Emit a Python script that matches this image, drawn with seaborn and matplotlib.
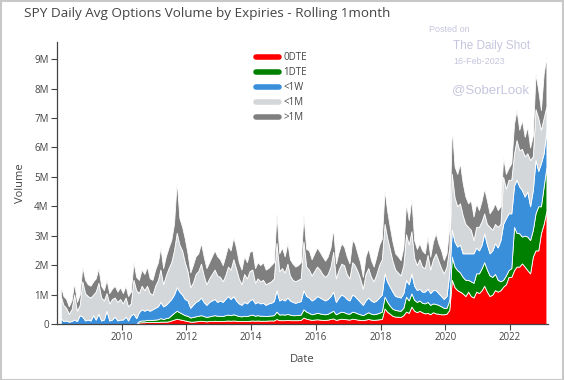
import numpy as np
import pandas as pd
import matplotlib
matplotlib.use("Agg")
import matplotlib.pyplot as plt
import seaborn as sns
from matplotlib.lines import Line2D
from matplotlib.patches import Rectangle

# ---------------- data (millions of contracts, monthly) ----------------
months = pd.date_range("2008-02-01", "2023-02-01", freq="MS") + pd.Timedelta(days=14)

# upper edge of each stacked band
edge_total = [
    1.30, 0.95, 0.85, 0.60, 0.80, 1.40, 0.75, 1.00, 1.95, 1.50, 1.35,
    1.30, 1.45, 1.55, 1.90, 1.30, 1.15, 1.50, 1.05, 1.20, 1.30, 1.10, 1.25,
    1.05, 1.30, 0.95, 1.10, 2.10, 1.60, 1.50, 1.85, 1.70, 1.95, 1.55, 1.50,
    1.85, 2.10, 2.60, 1.90, 2.30, 2.60, 2.85, 3.40, 4.85, 3.60, 3.30, 2.90,
    2.40, 1.75, 2.00, 2.30, 2.40, 2.75, 2.30, 1.90, 2.10, 2.30, 2.50, 2.30,
    2.20, 2.00, 2.30, 2.65, 2.50, 2.95, 2.60, 2.10, 1.85, 2.30, 2.10, 2.45,
    2.50, 1.90, 2.10, 2.00, 2.10, 1.85, 1.90, 2.00, 2.10, 3.75, 2.40, 2.60,
    2.30, 2.75, 2.20, 2.05, 1.95, 2.00, 2.10, 3.70, 2.55, 2.50, 2.20, 2.40,
    2.60, 2.45, 2.30, 2.15, 2.30, 2.60, 3.25, 2.06, 2.45, 2.74, 2.63, 2.30,
    2.06, 2.85, 2.74, 2.40, 2.10, 1.60, 2.30, 2.57, 2.17, 1.95, 2.30, 2.68,
    2.90, 4.55, 3.87, 3.30, 2.80, 2.40, 2.30, 2.17, 2.60, 4.10, 3.53, 4.26,
    2.85, 2.55, 2.74, 2.50, 2.40, 2.97, 2.29, 2.80, 3.08, 2.74, 2.50, 2.17,
    2.40, 3.30, 6.70, 5.35, 5.10, 5.46, 4.80, 4.33, 4.10, 4.20, 3.65, 4.10,
    3.87, 4.20, 4.60, 4.20, 3.76, 3.90, 4.10, 3.87, 4.00, 5.68, 5.10, 5.30,
    5.46, 6.80, 7.27, 6.60, 6.93, 6.36, 6.70, 6.00, 6.40, 8.50, 7.95, 7.27,
    8.50, 9.10,
]
edge_1m = [
    0.95, 0.65, 0.55, 0.35, 0.50, 1.00, 0.45, 0.65, 1.45, 1.05, 0.95,
    0.90, 1.00, 1.10, 1.40, 0.90, 0.80, 1.05, 0.70, 0.85, 0.90, 0.75, 0.85,
    0.70, 0.90, 0.60, 0.70, 1.50, 1.15, 1.05, 1.30, 1.15, 1.30, 1.05, 1.00,
    1.30, 1.50, 1.85, 1.35, 1.65, 1.90, 2.10, 2.50, 3.10, 2.70, 2.50, 2.10,
    1.80, 1.25, 1.40, 1.70, 1.80, 2.05, 1.65, 1.35, 1.55, 1.70, 1.85, 1.65,
    1.60, 1.45, 1.65, 1.95, 1.85, 2.20, 1.90, 1.55, 1.35, 1.70, 1.55, 1.80,
    1.85, 1.40, 1.55, 1.45, 1.50, 1.35, 1.40, 1.45, 1.55, 2.75, 1.80, 1.90,
    1.75, 2.05, 1.65, 1.50, 1.45, 1.50, 1.55, 2.80, 1.95, 1.85, 1.65, 1.80,
    1.95, 1.85, 1.70, 1.60, 1.70, 1.95, 2.45, 1.55, 1.85, 2.05, 2.00, 1.70,
    1.55, 2.10, 2.00, 1.80, 1.55, 1.20, 1.70, 1.90, 1.60, 1.45, 1.70, 2.00,
    2.20, 3.40, 2.95, 2.55, 2.15, 1.85, 1.75, 1.65, 2.00, 3.05, 2.70, 3.15,
    2.25, 2.00, 2.20, 1.95, 1.90, 2.35, 1.85, 2.20, 2.40, 2.15, 1.90, 1.72,
    1.95, 2.60, 5.10, 4.30, 4.00, 4.10, 3.70, 3.40, 3.30, 3.20, 2.85, 3.30,
    3.30, 3.50, 3.76, 3.40, 3.30, 3.20, 3.40, 3.30, 3.40, 5.00, 4.60, 4.90,
    4.90, 5.80, 6.25, 5.90, 5.95, 5.70, 5.80, 5.57, 5.70, 7.30, 7.00, 6.60,
    7.00, 7.40,
]
edge_1w = [
    0.20, 0.10, 0.12, 0.08, 0.10, 0.15, 0.10, 0.30, 0.25, 0.12, 0.15,
    0.12, 0.30, 0.15, 0.35, 0.12, 0.15, 0.45, 0.12, 0.15, 0.25, 0.12, 0.15,
    0.15, 0.25, 0.12, 0.30, 0.35, 0.20, 0.40, 0.50, 0.45, 0.50, 0.45, 0.50,
    0.55, 0.60, 0.75, 0.60, 0.65, 0.75, 0.85, 1.00, 1.25, 1.10, 1.00, 0.85,
    0.80, 0.55, 0.65, 0.75, 0.80, 0.90, 0.75, 0.65, 0.75, 0.80, 0.85, 0.75,
    0.80, 0.75, 0.85, 0.95, 0.85, 0.95, 0.80, 0.70, 0.65, 0.75, 0.70, 0.80,
    0.85, 0.70, 0.75, 0.70, 0.72, 0.65, 0.70, 0.72, 0.78, 1.15, 0.80, 0.85,
    0.80, 0.90, 0.80, 0.75, 0.72, 0.75, 0.78, 1.15, 0.95, 0.90, 0.80, 0.85,
    0.95, 0.90, 0.85, 0.80, 0.85, 0.95, 1.10, 0.75, 0.90, 1.00, 0.95, 0.85,
    0.80, 1.00, 0.95, 0.85, 0.75, 0.65, 0.80, 0.90, 0.80, 0.75, 0.80, 0.90,
    1.00, 1.72, 1.45, 1.27, 1.10, 0.95, 0.93, 0.90, 1.05, 1.50, 1.35, 1.72,
    1.30, 1.15, 1.20, 1.10, 1.10, 1.20, 1.05, 1.15, 1.15, 1.05, 0.95, 0.85,
    0.95, 1.72, 3.20, 2.80, 2.63, 2.70, 2.40, 2.40, 2.40, 2.40, 2.40, 2.60,
    2.50, 2.70, 3.08, 2.70, 2.40, 2.50, 2.74, 2.60, 2.85, 3.40, 3.60, 3.76,
    3.76, 4.70, 4.90, 4.67, 4.55, 4.33, 4.50, 4.00, 4.55, 5.57, 5.20, 5.46,
    5.80, 6.60,
]
edge_1dte = [
    0.00, 0.00, 0.00, 0.00, 0.00, 0.00, 0.00, 0.00, 0.00, 0.00, 0.00,
    0.00, 0.00, 0.00, 0.00, 0.00, 0.00, 0.00, 0.00, 0.00, 0.00, 0.00, 0.00,
    0.00, 0.00, 0.00, 0.00, 0.00, 0.00, 0.10, 0.12, 0.12, 0.14, 0.14, 0.14,
    0.15, 0.16, 0.20, 0.17, 0.20, 0.22, 0.30, 0.38, 0.45, 0.40, 0.35, 0.30,
    0.28, 0.22, 0.24, 0.26, 0.28, 0.30, 0.27, 0.24, 0.26, 0.28, 0.30, 0.28,
    0.28, 0.27, 0.30, 0.32, 0.30, 0.33, 0.30, 0.27, 0.26, 0.28, 0.27, 0.30,
    0.32, 0.28, 0.30, 0.28, 0.28, 0.27, 0.28, 0.29, 0.30, 0.42, 0.32, 0.33,
    0.32, 0.34, 0.32, 0.30, 0.30, 0.31, 0.32, 0.50, 0.42, 0.38, 0.33, 0.35,
    0.38, 0.36, 0.34, 0.33, 0.35, 0.40, 0.45, 0.33, 0.38, 0.42, 0.40, 0.36,
    0.35, 0.42, 0.40, 0.36, 0.33, 0.30, 0.35, 0.40, 0.35, 0.33, 0.35, 0.38,
    0.42, 0.93, 0.76, 0.62, 0.52, 0.48, 0.46, 0.45, 0.55, 0.93, 0.80, 1.04,
    0.82, 0.75, 0.80, 0.72, 0.70, 0.75, 0.65, 0.70, 0.68, 0.65, 0.60, 0.55,
    0.55, 0.80, 2.29, 1.95, 1.83, 1.75, 1.60, 1.50, 1.50, 1.45, 1.40, 1.72,
    1.72, 1.90, 2.10, 1.85, 1.65, 1.60, 1.70, 1.50, 1.45, 1.50, 1.65, 1.83,
    1.90, 3.30, 3.10, 3.08, 2.97, 3.00, 2.97, 2.85, 3.20, 3.76, 4.00, 4.00,
    4.67, 5.35,
]
edge_0dte = [
    0.00, 0.00, 0.00, 0.00, 0.00, 0.00, 0.00, 0.00, 0.00, 0.00, 0.00,
    0.00, 0.00, 0.00, 0.00, 0.00, 0.00, 0.00, 0.00, 0.00, 0.00, 0.00, 0.00,
    0.00, 0.00, 0.00, 0.00, 0.00, 0.00, 0.05, 0.06, 0.06, 0.07, 0.07, 0.07,
    0.07, 0.07, 0.08, 0.08, 0.08, 0.09, 0.12, 0.15, 0.18, 0.16, 0.14, 0.12,
    0.10, 0.08, 0.08, 0.09, 0.10, 0.11, 0.10, 0.09, 0.10, 0.10, 0.11, 0.10,
    0.10, 0.10, 0.11, 0.12, 0.11, 0.12, 0.11, 0.10, 0.10, 0.10, 0.10, 0.11,
    0.12, 0.11, 0.12, 0.11, 0.11, 0.11, 0.12, 0.12, 0.12, 0.17, 0.13, 0.13,
    0.13, 0.14, 0.13, 0.13, 0.13, 0.13, 0.14, 0.22, 0.18, 0.16, 0.14, 0.15,
    0.16, 0.15, 0.14, 0.14, 0.15, 0.17, 0.19, 0.14, 0.16, 0.18, 0.17, 0.16,
    0.15, 0.18, 0.17, 0.15, 0.14, 0.13, 0.15, 0.17, 0.15, 0.14, 0.15, 0.16,
    0.17, 0.53, 0.42, 0.35, 0.28, 0.25, 0.25, 0.24, 0.30, 0.42, 0.38, 0.59,
    0.45, 0.40, 0.45, 0.40, 0.36, 0.38, 0.33, 0.40, 0.36, 0.35, 0.33, 0.33,
    0.35, 0.48, 1.50, 1.25, 1.15, 1.10, 1.04, 0.95, 1.10, 0.95, 0.90, 1.10,
    1.05, 1.15, 1.30, 1.10, 0.95, 1.00, 1.15, 1.10, 1.15, 1.27, 1.35, 1.60,
    1.60, 1.83, 1.95, 1.95, 2.06, 1.95, 1.83, 1.72, 2.29, 2.50, 2.50, 3.08,
    3.40, 3.85,
]

series_names = ["0DTE", "1DTE", "<1W", "<1M", ">1M"]
series_colors = ["#ff0000", "#008000", "#3a8fdb", "#d4d7da", "#7f7f7f"]
ytick_labels = ["0", "1M", "2M", "3M", "4M", "5M", "6M", "7M", "8M", "9M"]
xtick_years = [2010, 2012, 2014, 2016, 2018, 2020, 2022]

# band thicknesses from the upper edges
edges = np.array([edge_0dte, edge_1dte, edge_1w, edge_1m, edge_total])
bands = np.diff(np.vstack([np.zeros(len(months)), edges]), axis=0)
bands = np.clip(bands, 0, None)

# ---------------- style ----------------
sns.set_theme(style="white")
plt.rcParams["font.family"] = ["Open Sans", "DejaVu Sans"]
txt = "#444444"

fig = plt.figure(figsize=(5.64, 3.80), dpi=100)
ax = fig.add_axes([57 / 564, 56 / 380, (548 - 57) / 564, (324 - 42) / 380])

ax.stackplot(months, *bands, colors=series_colors, edgecolor="white", linewidth=0.6)

ax.set_xlim(pd.Timestamp("2008-01-03"), pd.Timestamp("2023-03-05"))
ax.set_ylim(0, 9.58)
ax.set_yticks(range(10))
ax.set_yticklabels(ytick_labels)
ax.set_xticks([pd.Timestamp(f"{y}-01-01") for y in xtick_years])
ax.set_xticklabels([str(y) for y in xtick_years])

for s in ["top", "right"]:
    ax.spines[s].set_visible(False)
for s in ["left", "bottom"]:
    ax.spines[s].set_color(txt)
    ax.spines[s].set_linewidth(0.9)
ax.tick_params(axis="both", direction="out", length=4, width=0.8, color=txt,
               labelsize=7, labelcolor=txt, pad=2, left=True, bottom=True)
ax.grid(False)

ax.set_xlabel("Date", fontsize=8, color=txt, labelpad=8)
ax.set_ylabel("Volume", fontsize=8, color=txt, labelpad=6)

fig.text(24 / 564, 1 - 14 / 380, "SPY Daily Avg Options Volume by Expiries - Rolling 1month",
         fontsize=9.7, color=txt, va="center", ha="left")

handles = [Line2D([0], [0], color=c, lw=4) for c in series_colors]
fig.legend(handles, series_names, loc="upper left", bbox_to_anchor=(256 / 564, 1 - 52 / 380),
           frameon=False, fontsize=7, handlelength=2.4, handletextpad=0.4,
           labelspacing=0.42, borderpad=0, borderaxespad=0, labelcolor=txt)

wm = "#c6c6de"
wfont = ["Liberation Sans", "DejaVu Sans"]
fig.text(429 / 564, 1 - 29 / 380, "Posted on", fontsize=6.5, color=wm, va="center", family=wfont)
fig.text(453 / 564, 1 - 46 / 380, "The Daily Shot", fontsize=8.5, color=wm, va="center", family=wfont)
fig.text(453 / 564, 1 - 61 / 380, "16-Feb-2023", fontsize=6.5, color=wm, va="center", family=wfont)
fig.text(452 / 564, 1 - 90 / 380, "@SoberLook", fontsize=9.5, color=wm, va="center", family=wfont)

fig.patches.append(Rectangle((0.001, 0.001), 0.997, 0.996, transform=fig.transFigure,
                             fill=False, edgecolor="#c8c8c8", lw=1.5))

fig.savefig("out.png", dpi=100)
